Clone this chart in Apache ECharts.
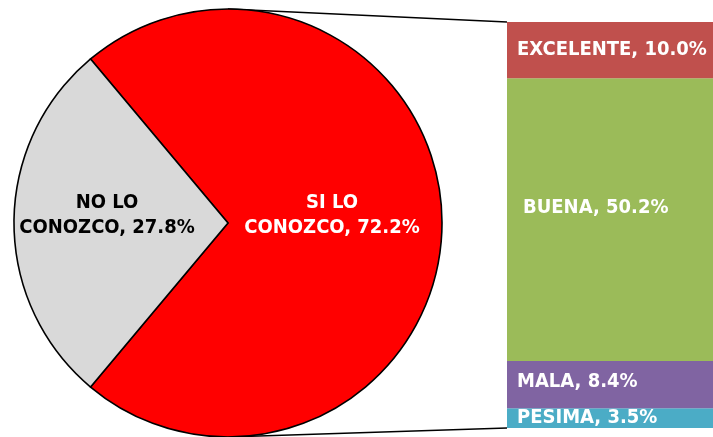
<!DOCTYPE html>
<html>
<head>
<meta charset="utf-8">
<script src="https://cdn.jsdelivr.net/npm/echarts@6/dist/echarts.min.js"></script>
<style>
  html, body { margin: 0; padding: 0; background: #ffffff; }
  #pieOfBar { width: 713px; height: 437px; }
</style>
</head>
<body>
<div id="pieOfBar"></div>
<script>
// pie: do they know it?
const pieNames = ['SI LO\nCONOZCO', 'NO LO\nCONOZCO'];
const pieValues = [72.2, 27.8];
const pieColors = ['#FF0000', '#D9D9D9'];

// bar: opinion of those who know it (bottom to top)
const barNames = ['PESIMA', 'MALA', 'BUENA', 'EXCELENTE'];
const barValues = [3.5, 8.4, 50.2, 10.0];
const barColors = ['#4BACC6', '#8064A2', '#9BBB59', '#C0504D'];

const FONT = '"DejaVu Sans Condensed", "DejaVu Sans"';
const pieCenter = [228, 223];
const pieRadius = 214;

const chart = echarts.init(document.getElementById('pieOfBar'));

const barTotal = barValues.reduce((a, b) => a + b, 0);
// gray slice centred on the left side
const startAngle = 180 - pieValues[1] * 360 / 100 / 2;

let option = {
  backgroundColor: '#ffffff',
  animation: false,
  grid: { left: 507, right: 0, top: 22, bottom: 9 },
  xAxis: { type: 'category', data: [''], show: false },
  yAxis: { type: 'value', min: 0, max: barTotal, show: false },
  series: [
    {
      type: 'pie',
      center: pieCenter,
      radius: pieRadius,
      startAngle: startAngle,
      clockwise: true,
      z: 3,
      itemStyle: { borderColor: '#000000', borderWidth: 1.6 },
      label: {
        show: true,
        position: 'inside',
        fontFamily: FONT,
        fontWeight: 'bold',
        fontSize: 20,
        lineHeight: 25,
        formatter: p => p.name + ', ' + p.value.toFixed(1) + '%'
      },
      labelLine: { show: false },
      emphasis: { disabled: true },
      data: pieNames.map((n, i) => ({
        name: n,
        value: pieValues[i],
        itemStyle: { color: pieColors[i] },
        label: { color: i === 0 ? '#ffffff' : '#000000', offset: i === 0 ? [-6, -8] : [-11, -8] }
      }))
    }
  ].concat(barNames.map((n, i) => ({
    type: 'bar',
    name: n,
    stack: 'opinion',
    barWidth: '100%',
    data: [barValues[i]],
    itemStyle: { color: barColors[i] },
    label: {
      show: true,
      position: 'insideLeft',
      distance: 10,
      offset: n === 'BUENA' ? [6, -12] : (n === 'MALA' ? [0, -3] : [0, 0]),
      color: '#ffffff',
      fontFamily: FONT,
      fontWeight: 'bold',
      fontSize: 20,
      formatter: p => n + ', ' + p.value.toFixed(1) + '%'
    },
    emphasis: { disabled: true }
  })))
};

chart.setOption(option);

// connector lines from pie top/bottom to bar top/bottom
const barTop = chart.convertToPixel({ gridIndex: 0 }, [0, barTotal]);
const barBottom = chart.convertToPixel({ gridIndex: 0 }, [0, 0]);
const barLeft = 507;
chart.setOption({
  graphic: [
    {
      type: 'line', z: 1,
      shape: { x1: pieCenter[0], y1: pieCenter[1] - pieRadius, x2: barLeft, y2: barTop[1] },
      style: { stroke: '#000000', lineWidth: 1.5 }
    },
    {
      type: 'line', z: 1,
      shape: { x1: pieCenter[0], y1: pieCenter[1] + pieRadius, x2: barLeft, y2: barBottom[1] },
      style: { stroke: '#000000', lineWidth: 1.5 }
    }
  ]
});
</script>
</body>
</html>
